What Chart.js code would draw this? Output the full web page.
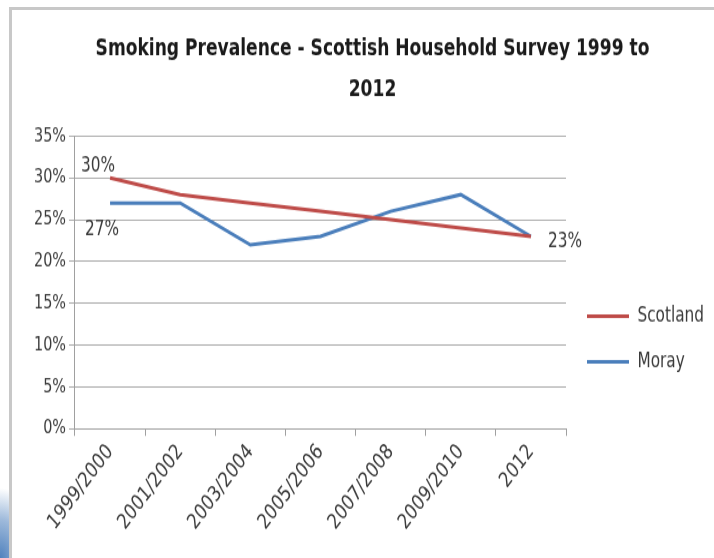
<!DOCTYPE html>
<html>
<head>
<meta charset="utf-8">
<script src="https://cdn.jsdelivr.net/npm/chart.js@4"></script>
<style>
  html, body { margin: 0; padding: 0; background: #fff; }
  #page {
    position: absolute; left: 0; top: 0; width: 714px; height: 558px; overflow: hidden;
    background: radial-gradient(ellipse 42px 70px at 0px 558px, #4f81bd 0%, rgba(79,129,189,0.55) 55%, rgba(255,255,255,0) 100%);
  }
  #box {
    position: absolute; left: 9px; top: 7px; width: 720px; height: 560px;
    border-left: 3px solid #c8c8c8; border-top: 3px solid #c8c8c8; background: #fff;
  }
  /* the slide picture is a little stretched vertically */
  #myChart { position: absolute; left: 0; top: 0; transform-origin: 0 0; transform: scaleY(1.2); }
</style>
</head>
<body>
<div id="page">
  <div id="box"></div>
  <canvas id="myChart" width="714" height="465"></canvas>
</div>
<script>
const years = ['1999/2000', '2001/2002', '2003/2004', '2005/2006', '2007/2008', '2009/2010', '2012'];
const scotland = [30, 28, 27, 26, 25, 24, 23];
const moray = [27, 27, 22, 23, 26, 28, 23];
const yTicks = [0, 5, 10, 15, 20, 25, 30, 35];

const FONT = "'Liberation Sans Narrow', 'DejaVu Sans Condensed', sans-serif";

// value labels shown on the slide: dataset, point, offset
const pointLabels = [
  { ds: 0, i: 0, dx: -12, dy: -10, align: 'center' },
  { ds: 1, i: 0, dx: -8, dy: 22, align: 'center' },
  { ds: 0, i: 6, dx: 17, dy: 5, align: 'left' }
];

const labelPlugin = {
  id: 'labels',
  afterDatasetsDraw(chart) {
    const ctx = chart.ctx;
    ctx.save();
    ctx.font = '17px ' + FONT;
    ctx.fillStyle = '#3a3a3a';
    ctx.textBaseline = 'middle';
    pointLabels.forEach(l => {
      const pt = chart.getDatasetMeta(l.ds).data[l.i];
      const v = chart.data.datasets[l.ds].data[l.i];
      ctx.textAlign = l.align;
      ctx.fillText(v + '%', pt.x + l.dx, pt.y + l.dy);
    });
    ctx.restore();
  }
};

const data = {
  labels: years,
  datasets: [{
    label: 'Scotland',
    data: scotland,
    borderColor: '#be4b48',
    backgroundColor: '#be4b48',
    borderWidth: 3,
    pointRadius: 0,
    tension: 0
  }, {
    label: 'Moray',
    data: moray,
    borderColor: '#4a7ebb',
    backgroundColor: '#4a7ebb',
    borderWidth: 3,
    pointRadius: 0,
    tension: 0
  }]
};

const config = {
  type: 'line',
  data: data,
  plugins: [labelPlugin],
  options: {
    responsive: false,
    animation: false,
    layout: { padding: { left: 31, right: 0, top: 24, bottom: 16 } },
    plugins: {
      title: {
        display: true,
        text: ['Smoking Prevalence - Scottish Household Survey 1999 to', '2012'],
        color: '#1a1a1a',
        font: { family: FONT, size: 19, weight: 'bold', lineHeight: 1.8 },
        padding: { top: 0, bottom: 21 }
      },
      legend: {
        position: 'right',
        // empty title only pushes the entries down to where the slide has them
        title: { display: true, text: ' ', font: { size: 10 }, padding: { top: 40, bottom: 40 } },
        labels: {
          usePointStyle: true,
          pointStyle: 'line',
          boxWidth: 53,
          pointStyleWidth: 42,
          padding: 21,
          color: '#3a3a3a',
          font: { family: FONT, size: 17 }
        }
      },
      tooltip: { enabled: false }
    },
    scales: {
      x: {
        offset: true,
        grid: { display: true, drawOnChartArea: false, offset: true, tickLength: 6, color: '#a0a0a0' },
        border: { color: '#a0a0a0' },
        ticks: { minRotation: 48, maxRotation: 48, color: '#3a3a3a', font: { family: FONT, size: 18 } }
      },
      y: {
        min: 0,
        max: 35,
        afterBuildTicks: axis => { axis.ticks = yTicks.map(v => ({ value: v })); },
        grid: { color: '#a8a8a8', tickLength: 6 },
        border: { color: '#a0a0a0' },
        ticks: { color: '#3a3a3a', padding: 3, font: { family: FONT, size: 16 }, callback: v => v + '%' }
      }
    }
  }
};

const myChart = new Chart(document.getElementById('myChart'), config);
console.log(JSON.stringify(myChart.chartArea));
</script>
</body>
</html>
